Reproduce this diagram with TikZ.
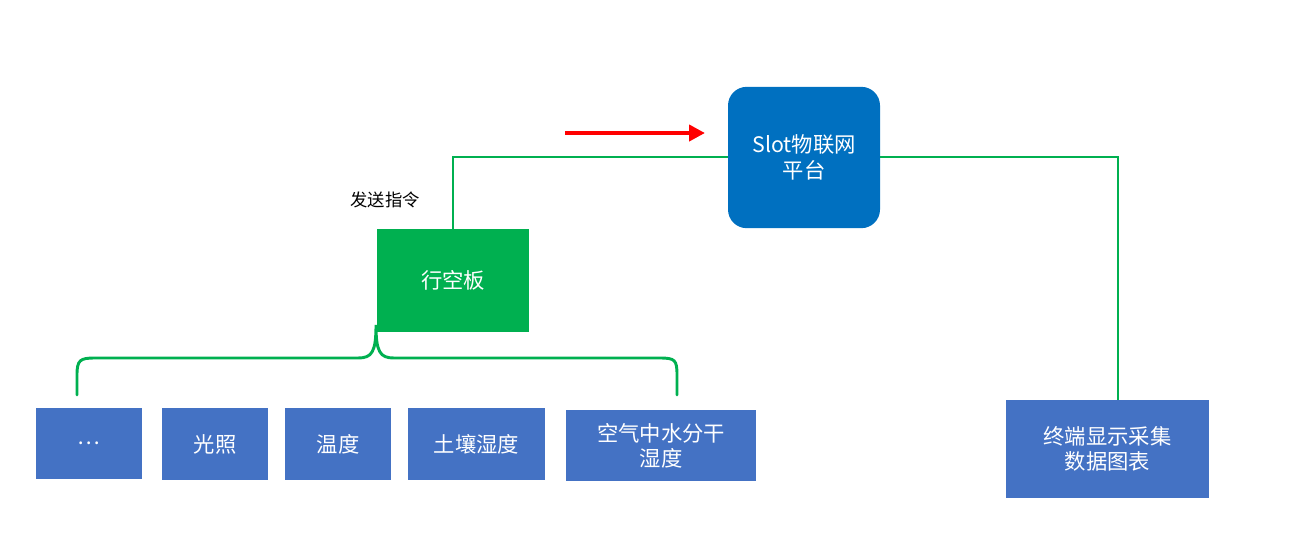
\documentclass[tikz,border=0pt]{standalone}
\usepackage{fontspec}
\setmainfont{Noto Sans CJK SC}
\usetikzlibrary{arrows.meta}
\begin{document}
\begin{tikzpicture}[x=0.75pt,y=-0.75pt,
  bb/.style={fill=blue4,draw=none,text=white,font=\fontsize{16}{19}\selectfont,align=center,inner sep=0},
  gl/.style={draw=green5,line width=2.2pt}]
\definecolor{blue4}{HTML}{4472C4}
\definecolor{blue7}{HTML}{0070C0}
\definecolor{green5}{HTML}{00B050}
\useasboundingbox (0,0) rectangle (1292,551);
\node[bb,fill=blue7,rounded corners=14pt,minimum width=114pt,minimum height=106pt] (iot) at (804,157.5) {Slot物联网\\平台};
\node[bb,fill=green5,minimum width=114pt,minimum height=77pt] (bd) at (453,280.5) {行空板};
\coordinate (c1) at (453,157);
\coordinate (c2) at (1118,157);
\draw[gl] (bd.north) -- (c1) -- (iot.west|-c1);
\node[bb,minimum width=152pt,minimum height=73pt] (term) at (1107.5,449) {终端显示采集\\数据图表};
\draw[gl] (iot.east|-c2) -- (c2) -- (term.north-|c2);
\coordinate (a1) at (565,133); \coordinate (a2) at (705,133);
\draw[red,line width=3pt,-{Triangle[length=12pt,width=12pt]}] (a1) -- (a2);
\node[font=\fontsize{13}{15}\selectfont] (lab) at (385,200) {发送指令};
\node[bb,minimum width=80pt,minimum height=53pt] (b0) at (89,443.5) {…};
\node[bb,minimum width=80pt,minimum height=54pt] (b1) at (215,444) {光照};
\node[bb,minimum width=80pt,minimum height=54pt] (b2) at (338,444) {温度};
\node[bb,minimum width=103pt,minimum height=54pt] (b3) at (476.5,444) {土壤湿度};
\node[bb,minimum width=143pt,minimum height=53pt] (b4) at (661,445.5) {空气中水分干\\湿度};
\coordinate (t) at (376,325);
\draw[gl,line cap=round,rounded corners=0pt] (77,395) -- (77,375) .. controls (77,360) and (80,358) .. (95,358) -- (358,358) .. controls (372,358) and (376,352) .. (t) .. controls (376,352) and (380,358) .. (394,358) -- (660,358) .. controls (675,358) and (677,360) .. (677,375) -- (677,395);
\end{tikzpicture}
\end{document}
